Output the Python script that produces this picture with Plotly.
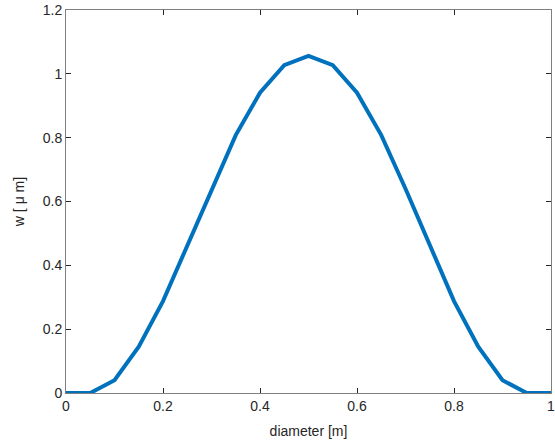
import plotly.graph_objects as go

# deflection profile across the diameter
diameter = [0, 0.05, 0.1, 0.15, 0.2, 0.25, 0.3, 0.35, 0.4, 0.45, 0.5,
            0.55, 0.6, 0.65, 0.7, 0.75, 0.8, 0.85, 0.9, 0.95, 1.0]
w_um = [0, 0, 0.04, 0.145, 0.288, 0.462, 0.64, 0.808, 0.941, 1.027, 1.056,
        1.027, 0.941, 0.808, 0.64, 0.462, 0.288, 0.145, 0.04, 0, 0]

x_ticks = [0, 0.2, 0.4, 0.6, 0.8, 1]
y_ticks = [0, 0.2, 0.4, 0.6, 0.8, 1, 1.2]

fig = go.Figure()
fig.add_trace(go.Scatter(x=diameter, y=w_um, mode='lines',
                         line=dict(color='#0072BD', width=4),
                         cliponaxis=False))

axis_style = dict(showgrid=False, zeroline=False, showline=True, mirror='ticks',
                  linecolor='#7f7f7f', linewidth=1, ticks='inside', ticklen=5,
                  tickcolor='#262626', tickfont=dict(color='#262626', size=14),
                  automargin=False, ticklabeloverflow='allow')

fig.update_xaxes(range=[0, 1], tickvals=x_ticks, ticktext=[str(t) for t in x_ticks],
                 title=dict(text='diameter [m]', standoff=13, font=dict(size=14, color='#262626')),
                 **axis_style)
fig.update_yaxes(range=[0, 1.2], tickvals=y_ticks, ticktext=[str(t) for t in y_ticks],
                 title=dict(text='w [ \u03bc m]', standoff=14, font=dict(size=14, color='#262626')),
                 **axis_style)

fig.update_layout(width=555, height=442, plot_bgcolor='white', paper_bgcolor='white',
                  margin=dict(l=66, r=4, t=10, b=49), showlegend=False,
                  font=dict(family='Liberation Sans, Arial, sans-serif'))

# page body has a default 8px margin; drop it so the figure sits at the corner
fig.write_html("out.html", config={'responsive': False, 'displayModeBar': False},
               post_script="document.body.style.margin='0';document.body.style.overflow='hidden';")
